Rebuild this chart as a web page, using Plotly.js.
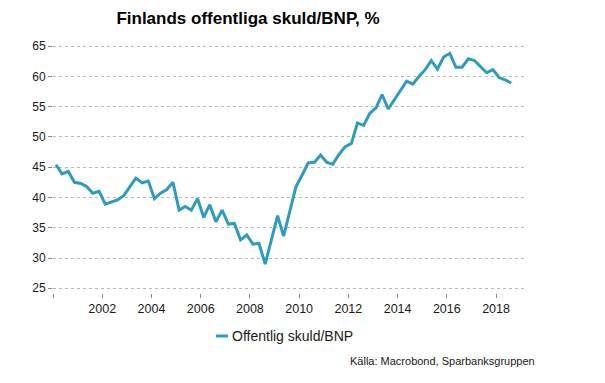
<!DOCTYPE html>
<html>
<head>
<meta charset="utf-8">
<script src="https://cdn.plot.ly/plotly-3.0.1.min.js"></script>
<style>html,body{margin:0;padding:0;background:#fff;}#chart{width:605px;height:383px;}</style>
</head>
<body>
<div id="chart"></div>
<script>
// Quarterly series, 2000Q1 .. 2018Q3
const startYear = 2000;
const seriesName = "Offentlig skuld/BNP";
const debtRatio = [
  45.4, 43.9, 44.3, 42.5, 42.3, 41.8, 40.7, 41.0,
  38.9, 39.2, 39.6, 40.3, 41.8, 43.2, 42.4, 42.7,
  39.8, 40.7, 41.3, 42.5, 37.9, 38.5, 37.9, 39.8,
  36.7, 38.8, 36.0, 37.9, 35.6, 35.7, 33.0, 33.8,
  32.3, 32.4, 29.0, 33.0, 37.0, 33.6, 37.9, 41.8,
  43.7, 45.7, 45.8, 47.0, 45.8, 45.5, 47.1, 48.4,
  48.9, 52.3, 51.9, 53.9, 54.8, 57.0, 54.6, 56.1,
  57.7, 59.2, 58.7, 60.0, 61.1, 62.6, 61.2, 63.2,
  63.8, 61.5, 61.5, 62.9, 62.6, 61.6, 60.6, 61.1,
  59.8, 59.4, 58.9
];
const tickYears = [2000, 2002, 2004, 2006, 2008, 2010, 2012, 2014, 2016, 2018];
const tickLabels = ["", "2002", "2004", "2006", "2008", "2010", "2012", "2014", "2016", "2018"];
const yTicks = [25, 30, 35, 40, 45, 50, 55, 60, 65];

const midMonths = ["02-15", "05-15", "08-15", "11-15"];
const quarterDates = debtRatio.map((_, i) =>
  (startYear + Math.floor(i / 4)) + "-" + midMonths[i % 4]);

const lineColor = "#2e9bc0";

const trace = {
  x: quarterDates,
  y: debtRatio,
  type: "scatter",
  mode: "lines",
  name: seriesName,
  line: {color: lineColor, width: 3},
  showlegend: false
};

const layout = {
  width: 605, height: 383,
  margin: {l: 53, r: 78, t: 40, b: 90},
  paper_bgcolor: "#fff", plot_bgcolor: "#fff",
  font: {family: "Liberation Sans, Arial, sans-serif", color: "#1a1a1a", size: 12},
  title: {
    text: "<b>Finlands offentliga skuld/BNP, %</b>",
    font: {family: "Liberation Sans, Arial, sans-serif", size: 17, color: "#000"},
    x: 248 / 605, xref: "container", xanchor: "center",
    y: 1 - 18 / 383, yref: "container", yanchor: "middle"
  },
  xaxis: {
    type: "date",
    range: ["2000-01-01", "2019-04-05"],
    tickvals: tickYears.map(y => y + "-01-01"),
    ticktext: tickLabels,
    ticks: "outside", ticklen: 4, tickcolor: "#888", tickwidth: 1,
    showgrid: false, zeroline: false, showline: false,
    tickfont: {size: 12.5, color: "#1a1a1a"}
  },
  yaxis: {
    range: [24.22, 66],
    tickvals: yTicks,
    ticks: "outside", ticklen: 4, tickcolor: "#888", tickwidth: 1,
    showgrid: true, gridcolor: "#b8b8b8", griddash: "dot", gridwidth: 1,
    zeroline: false, showline: false,
    tickfont: {size: 12, color: "#1a1a1a"}
  },
  shapes: [{
    type: "line", xref: "paper", yref: "paper",
    x0: (216 - 53) / 474, x1: (228 - 53) / 474,
    y0: -(336 - 293) / 253, y1: -(336 - 293) / 253,
    line: {color: lineColor, width: 3}
  }],
  annotations: [
    {
      text: seriesName, xref: "paper", yref: "paper",
      x: (230 - 53) / 474, y: -(336 - 293) / 253,
      xanchor: "left", yanchor: "middle", showarrow: false,
      font: {size: 14, color: "#1a1a1a"}
    },
    {
      text: "Källa: Macrobond, Sparbanksgruppen", xref: "paper", yref: "paper",
      x: (348 - 53) / 474, y: -(361 - 293) / 253,
      xanchor: "left", yanchor: "middle", showarrow: false,
      font: {size: 11, color: "#1a1a1a"}
    }
  ]
};

Plotly.newPlot("chart", [trace], layout, {displayModeBar: false, staticPlot: true});
</script>
</body>
</html>
